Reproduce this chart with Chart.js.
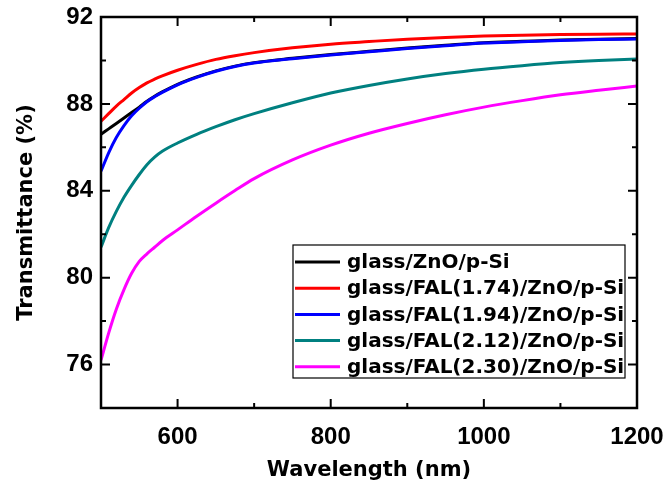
<!DOCTYPE html>
<html>
<head>
<meta charset="utf-8">
<script src="https://cdn.jsdelivr.net/npm/chart.js@4/dist/chart.umd.min.js"></script>
<style>
  body { margin: 0; background: #fff; }
</style>
</head>
<body>
<canvas id="chart" width="663" height="489"></canvas>
<script>
// wavelength (nm)
const wavelengths = [500, 510, 520, 530, 540, 550, 560, 570, 580, 600, 625, 650, 675, 700, 750, 800, 850, 900, 950, 1000, 1050, 1100, 1150, 1200]

const labels = [
  'glass/ZnO/p-Si',
  'glass/FAL(1.74)/ZnO/p-Si',
  'glass/FAL(1.94)/ZnO/p-Si',
  'glass/FAL(2.12)/ZnO/p-Si',
  'glass/FAL(2.30)/ZnO/p-Si',
]

const bare = [86.6, 86.85, 87.1, 87.35, 87.6, 87.85, 88.12, 88.35, 88.55, 88.9, 89.24, 89.52, 89.74, 89.9, 90.1, 90.27, 90.42, 90.57, 90.7, 90.82, 90.88, 90.94, 90.98, 91.01]
const fal174 = [87.2, 87.55, 87.9, 88.2, 88.5, 88.75, 88.97, 89.14, 89.29, 89.55, 89.82, 90.05, 90.22, 90.36, 90.58, 90.75, 90.87, 90.98, 91.06, 91.12, 91.16, 91.19, 91.21, 91.22]
const fal194 = [84.9, 85.75, 86.45, 87.0, 87.45, 87.8, 88.1, 88.33, 88.53, 88.88, 89.22, 89.5, 89.72, 89.88, 90.08, 90.25, 90.4, 90.55, 90.68, 90.8, 90.86, 90.92, 90.96, 90.99]
const fal212 = [81.4, 82.3, 83.05, 83.7, 84.25, 84.75, 85.2, 85.55, 85.82, 86.2, 86.6, 86.95, 87.27, 87.55, 88.05, 88.5, 88.85, 89.15, 89.4, 89.6, 89.76, 89.9, 90.0, 90.07]
const fal230 = [76.2, 77.45, 78.55, 79.45, 80.2, 80.75, 81.1, 81.4, 81.7, 82.2, 82.83, 83.43, 84.01, 84.56, 85.42, 86.1, 86.65, 87.1, 87.5, 87.85, 88.15, 88.42, 88.63, 88.82]

const colors = ['#000000', '#ff0000', '#0000ff', '#008080', '#ff00ff']
const series = [bare, fal174, fal194, fal212, fal230]

const xTicks = [600, 800, 1000, 1200]
const xMinor = [700, 900, 1100]
const yTicks = [76, 80, 84, 88, 92]
const yMinor = [78, 82, 86, 90]

const tickFont = { family: '"Liberation Sans", Arial, sans-serif', size: 24, weight: 'bold' }
const titleFont = { family: '"DejaVu Sans", sans-serif', size: 21, weight: 'bold' }

// box frame with inward ticks on all four sides, and the legend inside the plot
const framePlugin = {
  id: 'frame',
  afterDraw(chart) {
    const { ctx, chartArea: a, scales: { x, y } } = chart
    ctx.save()
    ctx.strokeStyle = '#000'
    ctx.lineWidth = 2
    ctx.beginPath()
    const tickX = (v, len) => {
      const px = x.getPixelForValue(v)
      ctx.moveTo(px, a.bottom); ctx.lineTo(px, a.bottom - len)
      ctx.moveTo(px, a.top); ctx.lineTo(px, a.top + len)
    }
    const tickY = (v, len) => {
      const py = y.getPixelForValue(v)
      ctx.moveTo(a.left, py); ctx.lineTo(a.left + len, py)
      ctx.moveTo(a.right, py); ctx.lineTo(a.right - len, py)
    }
    xTicks.forEach(v => tickX(v, 9))
    xMinor.forEach(v => tickX(v, 5))
    yTicks.forEach(v => tickY(v, 9))
    yMinor.forEach(v => tickY(v, 5))
    ctx.stroke()
    ctx.lineWidth = 2.5
    ctx.strokeRect(a.left, a.top, a.right - a.left, a.bottom - a.top)

    // legend
    const lx = 293, ly = 245, lw = 332, lh = 133
    ctx.fillStyle = '#fff'
    ctx.fillRect(lx, ly, lw, lh)
    ctx.lineWidth = 1.2
    ctx.strokeRect(lx, ly, lw, lh)
    ctx.font = 'bold 20px "DejaVu Sans", sans-serif'
    ctx.textBaseline = 'middle'
    chart.data.datasets.forEach((ds, i) => {
      const ry = 262 + i * 26.2
      ctx.strokeStyle = ds.borderColor
      ctx.lineWidth = 3
      ctx.beginPath()
      ctx.moveTo(295, ry); ctx.lineTo(340, ry)
      ctx.stroke()
      ctx.fillStyle = '#000'
      ctx.fillText(ds.label, 347, ry + 1)
    })
    ctx.restore()
  }
}

new Chart(document.getElementById('chart'), {
  type: 'line',
  data: {
    labels: wavelengths,
    datasets: series.map((values, i) => ({
      label: labels[i],
      data: values.map((v, j) => ({ x: wavelengths[j], y: v })),
      borderColor: colors[i],
      borderWidth: 3,
      pointRadius: 0,
      cubicInterpolationMode: 'monotone',
      fill: false,
      order: i === 0 ? 1 : 0,
    }))
  },
  options: {
    responsive: false,
    animation: false,
    devicePixelRatio: 1,
    layout: { padding: { top: 17, right: 26, left: 0, bottom: 0 } },
    plugins: { legend: { display: false }, tooltip: { enabled: false } },
    scales: {
      x: {
        type: 'linear',
        min: 500,
        max: 1200,
        grid: { display: false, drawTicks: false },
        border: { display: false },
        ticks: { font: tickFont, color: '#000', padding: 15, maxRotation: 0, callback: v => String(v) },
        title: { display: true, text: 'Wavelength (nm)', font: titleFont, color: '#000', padding: { top: 0, bottom: 6 } },
        afterBuildTicks: s => { s.ticks = xTicks.map(v => ({ value: v })) },
        afterFit: s => { s.height = 81; s.paddingLeft = 0; s.paddingRight = 0 },
      },
      y: {
        min: 74,
        max: 92,
        grid: { display: false, drawTicks: false },
        border: { display: false },
        ticks: { font: tickFont, color: '#000', padding: 8, callback: v => String(v) },
        title: { display: true, text: 'Transmittance (%)', font: titleFont, color: '#000', padding: { top: 14, bottom: 0 } },
        afterBuildTicks: s => { s.ticks = yTicks.map(v => ({ value: v })) },
        afterFit: s => { s.width = 101; s.paddingTop = 0; s.paddingBottom = 0 },
      }
    }
  },
  plugins: [framePlugin]
})
</script>
</body>
</html>
